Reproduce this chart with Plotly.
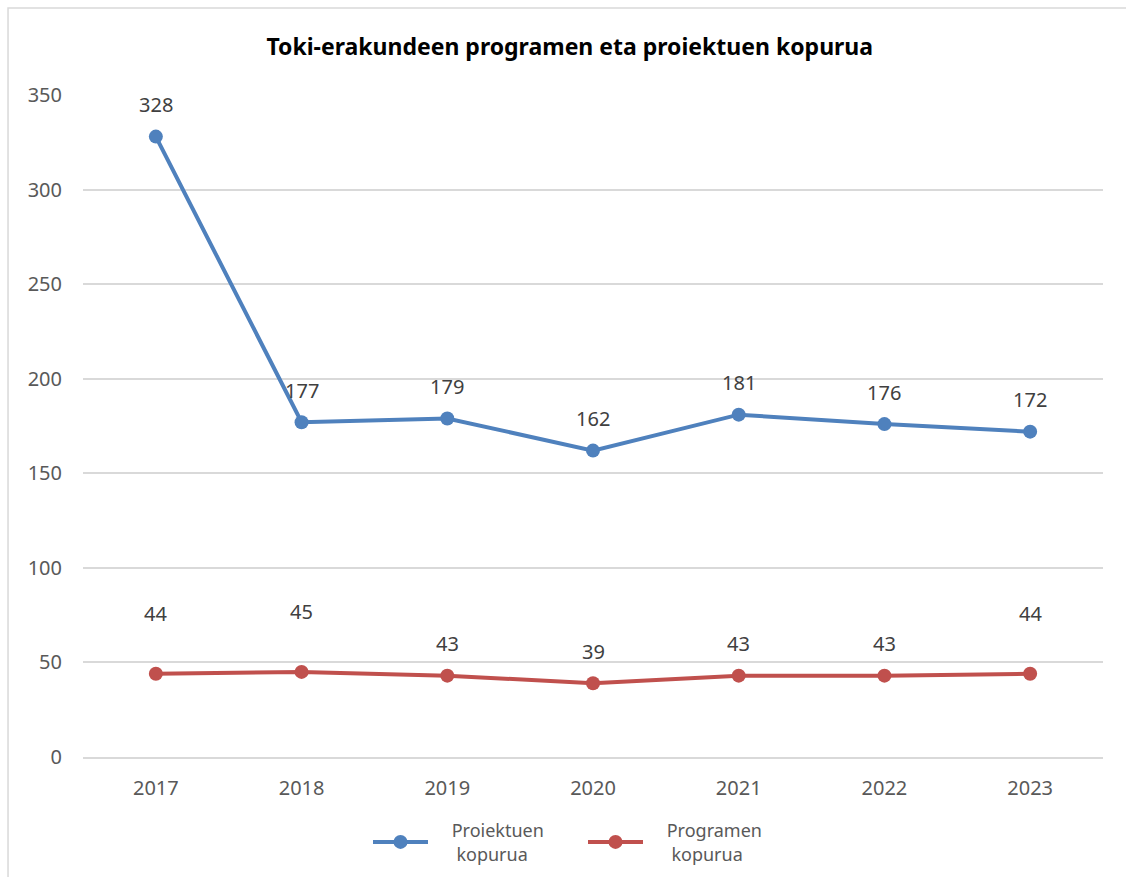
import plotly.graph_objects as go

years = ["2017", "2018", "2019", "2020", "2021", "2022", "2023"]
proiektuak = [328, 177, 179, 162, 181, 176, 172]
programak = [44, 45, 43, 39, 43, 43, 44]

BLUE = "#4f81bd"
RED = "#c0504d"
GRID = "#d9d9d9"
TEXT = "#595959"
LABEL = "#404040"
FONT = "Noto Sans, sans-serif"
PAD = "\u00a0" * 4

# pixel offsets of the value labels above the markers (the Excel original
# pushes some of the lower labels further up)
blue_shift = [32] * 7
red_shift = [60, 60, 32, 32, 32, 32, 60]

fig = go.Figure()
fig.add_trace(go.Scatter(
    x=years, y=proiektuak, name=PAD + "Proiektuen<br>" + PAD + " kopurua",
    mode="lines+markers",
    line=dict(color=BLUE, width=4), marker=dict(size=14, color=BLUE),
))
fig.add_trace(go.Scatter(
    x=years, y=programak, name=PAD + "Programen<br>" + PAD + " kopurua",
    mode="lines+markers",
    line=dict(color=RED, width=4), marker=dict(size=14, color=RED),
))

annotations = []
for vals, shifts in [(proiektuak, blue_shift), (programak, red_shift)]:
    for i, (v, s) in enumerate(zip(vals, shifts)):
        annotations.append(dict(
            x=i, y=v, text=str(v), showarrow=False, yshift=s,
            font=dict(size=20, color=LABEL, family=FONT),
        ))

fig.update_layout(
    width=1126, height=877,
    plot_bgcolor="white", paper_bgcolor="white",
    font=dict(family=FONT, color=TEXT, size=20),
    margin=dict(l=83, r=23, t=95, b=120),
    title=dict(
        text="<b>Toki-erakundeen programen eta proiektuen kopurua</b>",
        x=0.506, xanchor="center", y=1 - 47 / 877, yanchor="middle",
        font=dict(size=23, color="black", family=FONT),
    ),
    showlegend=True,
    legend=dict(
        orientation="h", xref="container", yref="container",
        x=583 / 1126, xanchor="center", y=1 - 842 / 877, yanchor="middle",
        font=dict(size=18, color=TEXT), bgcolor="rgba(0,0,0,0)",
        itemwidth=55, entrywidth=145, tracegroupgap=0,
    ),
    annotations=annotations,
    shapes=[dict(
        type="rect", xref="paper", yref="paper",
        x0=-0.0735, x1=1.03, y0=-0.2, y1=1.1314,
        line=dict(color=GRID, width=1.5), layer="below",
    )],
)
fig.update_xaxes(
    type="category", range=[-0.5, 6.5], showgrid=False, automargin=False,
    showline=True, linecolor=GRID, linewidth=1.5, ticks="",
    ticklabelstandoff=12, tickfont=dict(size=20, color=TEXT),
)
fig.update_yaxes(
    range=[0, 350], dtick=50, showgrid=True, gridcolor=GRID, gridwidth=1.5,
    zeroline=False, showline=False, ticks="", automargin=False,
    ticklabelstandoff=20, tickfont=dict(size=20, color=TEXT),
)

fig.write_html(
    "out.html",
    config={"displayModeBar": False},
    post_script="document.body.style.margin='0';",
)
